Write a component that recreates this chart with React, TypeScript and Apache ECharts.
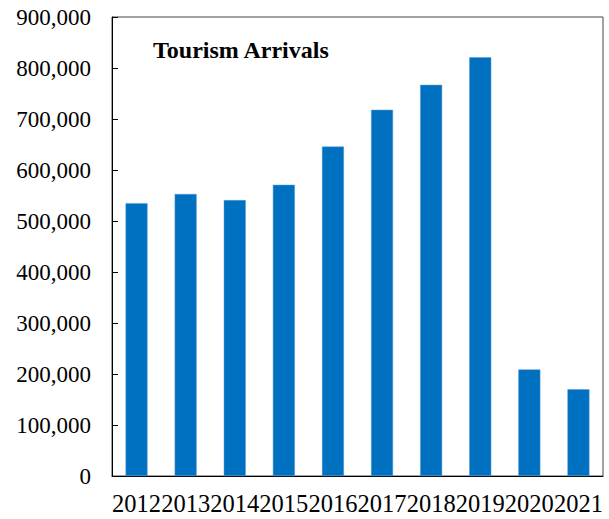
import React, { useEffect, useRef } from "react";
import * as echarts from "echarts";

const years = ["2012", "2013", "2014", "2015", "2016", "2017", "2018", "2019", "2020", "2021"];
const arrivals = [535000, 553000, 541000, 571000, 646000, 718000, 767000, 821000, 209000, 170000];
const chartTitle = "Tourism Arrivals";

export default function App() {
  const ref = useRef<HTMLDivElement>(null);
  useEffect(() => {
    if (!ref.current) return;
    const chart = echarts.init(ref.current, null, { renderer: "svg" });
    const font = "'Liberation Serif', 'Times New Roman', serif";
    chart.setOption({
      animation: false,
      backgroundColor: "#ffffff",
      title: {
        text: chartTitle,
        left: 148,
        top: 33,
        textStyle: { fontFamily: font, fontWeight: "bold", fontSize: 24, color: "#000" },
      },
      grid: {
        left: 112,
        top: 17,
        right: 6,
        bottom: 43,
        show: true,
        borderColor: "#444",
        borderWidth: 1,
        containLabel: false,
      },
      xAxis: {
        type: "category",
        data: years,
        axisLine: { show: true, lineStyle: { color: "#000", width: 1 } },
        axisTick: { show: false },
        axisLabel: { fontFamily: font, fontSize: 24.5, color: "#000", margin: 15, interval: 0 },
      },
      yAxis: {
        type: "value",
        min: 0,
        max: 900000,
        interval: 100000,
        axisLine: { show: true, lineStyle: { color: "#000", width: 1 } },
        axisTick: { show: true, inside: true, length: 6, lineStyle: { color: "#000" } },
        splitLine: { show: false },
        axisLabel: {
          fontFamily: font,
          fontSize: 23,
          color: "#000",
          margin: 21,
          formatter: (v: number) => v.toLocaleString("en-US"),
        },
      },
      series: [
        {
          type: "bar",
          data: arrivals,
          barWidth: 22,
          itemStyle: { color: "#0070C0", borderColor: "#5B9BD5", borderWidth: 0.5 },
        },
      ],
    });
    return () => chart.dispose();
  }, []);
  return <div ref={ref} style={{ width: 609, height: 519, position: "absolute", left: 0, top: 0 }} />;
}
